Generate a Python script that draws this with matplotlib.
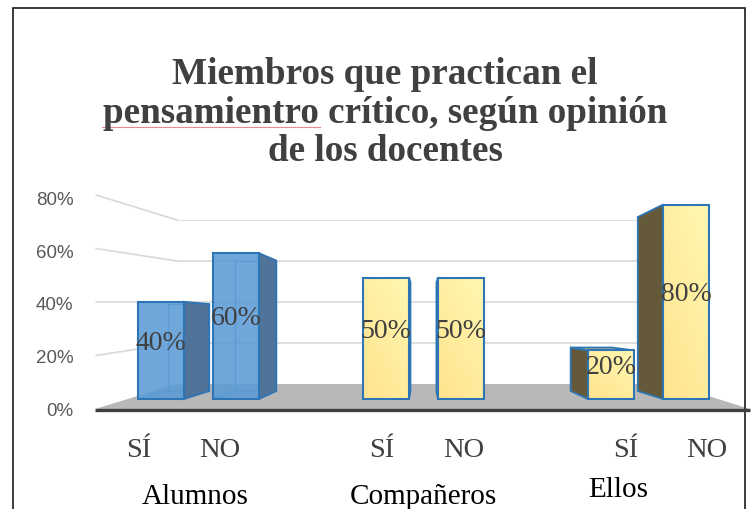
import numpy as np
import matplotlib
matplotlib.use('Agg')
import matplotlib.pyplot as plt
from matplotlib.patches import Polygon, ConnectionPatch
from matplotlib.colors import to_rgba, LinearSegmentedColormap

# ---------------- data ----------------
groups = ['Alumnos', 'Compañeros', 'Ellos']
answers = ['SÍ', 'NO']
alumnos = [40, 60]
companeros = [50, 50]
ellos = [20, 80]
y_ticks = [0, 20, 40, 60, 80]
y_ticklabels = ['0%', '20%', '40%', '60%', '80%']
title_lines = ['Miembros que practican el',
               'pensamientro crítico, según opinión',
               'de los docentes']

# ---------------- layout / style ----------------
W, H = 754, 510
SERIF = 'Liberation Serif'
SANS = 'Liberation Sans'
TXT = '#404040'
GRID = '#D9D9D9'
EDGE = '#2E75B6'

fig = plt.figure(figsize=(W / 100, H / 100), dpi=100)


def fx(px):
    return px / W


def fy(py):
    return 1 - py / H


# background (frame, floor, title)
bg = fig.add_axes([0, 0, 1, 1], zorder=0)
bg.set_xlim(0, W)
bg.set_ylim(H, 0)
bg.axis('off')
bg.plot([12.5, 12.5, 745, 745], [H + 5, 8.5, 8.5, H + 5], color='#1a1a1a',
        lw=1.2, solid_joinstyle='miter', clip_on=False)
bg.add_patch(Polygon([(95, 410), (177, 385), (670, 385), (750, 410)],
                     closed=True, facecolor='#B8B8B8', edgecolor='none'))
bg.plot([95, 750], [411, 411], color='#3F3F3F', lw=2.4, solid_capstyle='butt')

title_baselines = [84, 123, 161]
for line, yb in zip(title_lines, title_baselines):
    bg.text(385, yb, line, ha='center', va='baseline', fontsize=26.7,
            fontweight='bold', family=SERIF, color=TXT)
# spell-check underline under the misspelled word
bg.plot([102, 320], [127.5, 127.5], color='#F08A8A', lw=0.8)

# back wall gridlines
axb = fig.add_axes([fx(177), fy(385), fx(672) - fx(177), fy(221) - fy(385)], zorder=1)
axb.set_xlim(0, 1)
axb.set_ylim(0, 80)
axb.axis('off')
axb.hlines(y_ticks[1:], 0, 1, color=GRID, lw=1.2)

# left side wall (front end of gridlines)
axw = fig.add_axes([fx(96), fy(410), 0.01, fy(196) - fy(410)], zorder=1)
axw.set_ylim(0, 80)
axw.axis('off')
for t in y_ticks[1:]:
    con = ConnectionPatch(xyA=(0, t), coordsA=axw.get_yaxis_transform(),
                          xyB=(0, t), coordsB=axb.get_yaxis_transform(),
                          color=GRID, lw=1.2, zorder=1)
    fig.add_artist(con)

# y tick labels
axl = fig.add_axes([fx(75), fy(409), 0.001, fy(199) - fy(409)], zorder=2)
axl.set_ylim(0, 80)
axl.set_yticks(y_ticks)
axl.set_yticklabels(y_ticklabels, fontsize=13.5, color='#595959', family=SANS)
axl.tick_params(axis='y', length=0, pad=1)
axl.set_xticks([])
for s in axl.spines.values():
    s.set_visible(False)
axl.patch.set_visible(False)

# bars axes (front plane)
PX0, PXU, PY0, PYU = 161, 75, 400, 2.43
ax = fig.add_axes([0, 0, 1, 1], zorder=3)
XL = (-PX0 / PXU, (W - PX0) / PXU)
YL = ((PY0 - H) / PYU, PY0 / PYU)
ax.axis('off')

VPX = (423 - PX0) / PXU
VPY = (PY0 - 324) / PYU
DEPTH = 0.895
BAR_W = 46 / PXU
LAB_C = (434 - PX0) / PXU
LAB_S = 1.0826


def back(p):
    return (VPX + DEPTH * (p[0] - VPX), VPY + DEPTH * (p[1] - VPY))


group_pos = [0, 3, 6]
series = [alumnos, companeros, ellos]
styles = ['blue', 'yellow', 'yellow']

ycmap = LinearSegmentedColormap.from_list('y', ['#FFE38F', '#FFF8B0'])
grad = np.add.outer(np.linspace(0, 0.6, 50), np.linspace(0, 0.4, 20))

for g, vals, st in zip(group_pos, series, styles):
    xs = [g + i for i in range(len(vals))]
    for x, v in zip(xs, vals):
        x0, x1 = x - BAR_W / 2, x + BAR_W / 2
        fl, fr, tr, tl = (x0, 0), (x1, 0), (x1, v), (x0, v)
        bl_, br_, tr_, tl_ = back(fl), back(fr), back(tr), back(tl)
        if st == 'blue':
            # hidden edges seen through the transparent box
            ax.add_patch(Polygon([bl_, br_, tr_, tl_], closed=True, facecolor='none',
                                 edgecolor='#5B9BD5', lw=1.0, zorder=4))
            ax.add_patch(Polygon([fl, bl_], closed=False, fill=False,
                                 edgecolor='#5B9BD5', lw=1.0, zorder=4))
            side_c, top_c = '#50739A', '#6C95C4'
        else:
            side_c, top_c = '#645A3A', '#D7B978'
        if x1 < VPX:
            ax.add_patch(Polygon([fr, tr, tr_, br_], closed=True, facecolor=side_c,
                                 edgecolor=EDGE, lw=1.3, zorder=4.5))
        if x0 > VPX:
            ax.add_patch(Polygon([fl, tl, tl_, bl_], closed=True, facecolor=side_c,
                                 edgecolor=EDGE, lw=1.3, zorder=4.5))
        if v < VPY:
            ax.add_patch(Polygon([tl, tr, tr_, tl_], closed=True, facecolor=top_c,
                                 edgecolor=EDGE, lw=1.3, zorder=4.6))
    if st == 'blue':
        ax.bar(xs, vals, width=BAR_W, color=to_rgba('#5B9BD5', 0.88),
               edgecolor=EDGE, lw=1.5, zorder=5)
    else:
        bars = ax.bar(xs, vals, width=BAR_W, color='#FFE99C', edgecolor='none', zorder=5)
        for b in bars:
            im = ax.imshow(grad, cmap=ycmap, origin='lower', aspect='auto',
                           extent=(b.get_x(), b.get_x() + b.get_width(), 0, b.get_height()),
                           zorder=5.2, interpolation='bilinear')
            im.set_clip_path(b)
        ax.bar(xs, vals, width=BAR_W, fill=False, edgecolor=EDGE, lw=1.5, zorder=5.5)
    for x, v in zip(xs, vals):
        ax.text(x, v / 2 + 0.7, f'{v}%', ha='center', va='baseline', fontsize=20,
                family=SERIF, color=TXT, zorder=10)
    for x, a in zip(xs, answers):
        ax.text(LAB_C + LAB_S * (x - LAB_C), (PY0 - 457) / PYU, a, ha='center',
                va='baseline', fontsize=20.5, family=SERIF, color=TXT, zorder=10)

GROUP_NUDGE_PX = [(-3.5, 504), (0, 504), (-30, 497)]
for g, name, (dx, yb) in zip(group_pos, groups, GROUP_NUDGE_PX):
    ax.text(g + 0.5 + dx / PXU, (PY0 - yb) / PYU, name, ha='center', va='baseline',
            fontsize=21, family=SERIF, color='black', zorder=10)

ax.set_xlim(*XL)
ax.set_ylim(*YL)

fig.savefig('out.png', dpi=100)
